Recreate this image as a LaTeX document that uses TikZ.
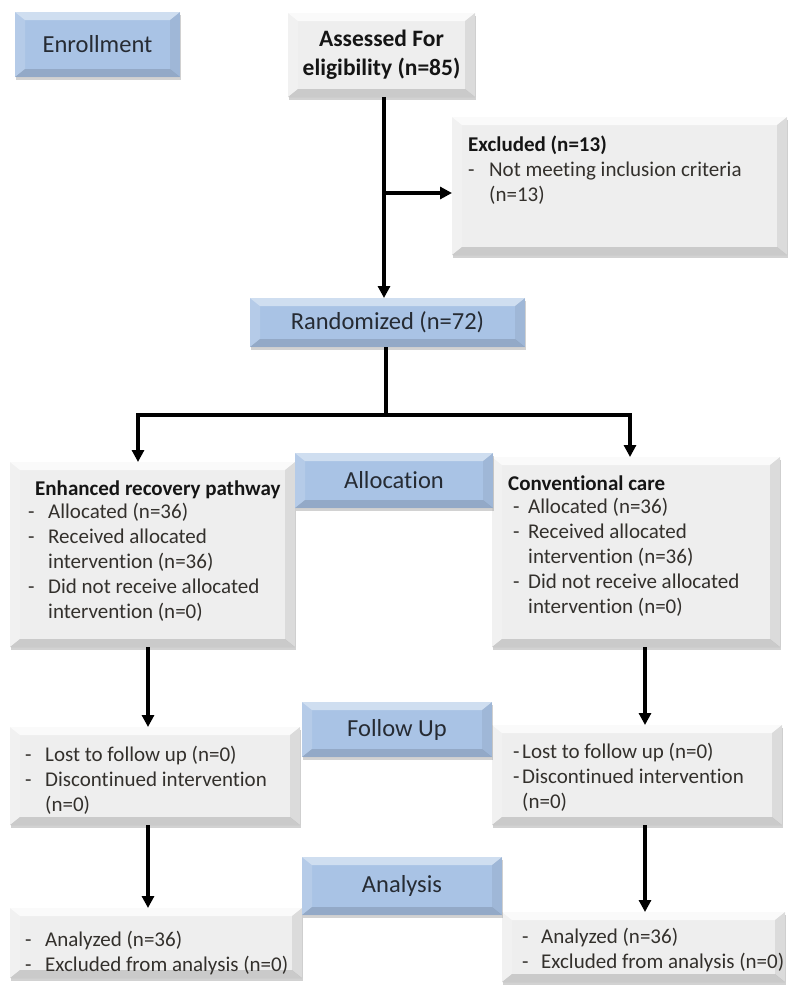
\documentclass[tikz,border=0pt]{standalone}
\usepackage{fontspec}
\setmainfont{Carlito}[Ligatures=NoCommon]
\usetikzlibrary{arrows.meta,shadows}
\definecolor{gface}{HTML}{EEEEEE}
\definecolor{bface}{HTML}{A9C3E5}
\definecolor{btext}{HTML}{262B33}
\definecolor{gtext}{HTML}{33302C}
\definecolor{ttext}{HTML}{151515}
\newcommand\boxtitle[1]{{\bfseries\color{ttext}#1}}
\newcommand\itemd[3]{\hspace*{#1}\makebox[#2][l]{-}#3}
\tikzset{
  bevel/.style n args={4}{path picture={
    \path (path picture bounding box.north west) coordinate (bvnw)
          (path picture bounding box.north east) coordinate (bvne)
          (path picture bounding box.south west) coordinate (bvsw)
          (path picture bounding box.south east) coordinate (bvse);
    \fill[white,opacity=#1] (bvnw) -- (bvne) -- ([shift={(-10pt,-8pt)}]bvne) -- ([shift={(10pt,-8pt)}]bvnw) -- cycle;
    \fill[white,opacity=#2] (bvnw) -- ([shift={(10pt,-8pt)}]bvnw) -- ([shift={(10pt,8pt)}]bvsw) -- (bvsw) -- cycle;
    \fill[black,opacity=#3] (bvne) -- (bvse) -- ([shift={(-10pt,8pt)}]bvse) -- ([shift={(-10pt,-8pt)}]bvne) -- cycle;
    \fill[black,opacity=#4] (bvsw) -- (bvse) -- ([shift={(-10pt,8pt)}]bvse) -- ([shift={(10pt,8pt)}]bvsw) -- cycle;
  }},
  boxbase/.style={inner sep=0pt, outer sep=0pt, drop shadow={shadow xshift=1pt, shadow yshift=-3pt, opacity=.25, fill=black!70}},
  gbox/.style={boxbase, fill=gface, bevel={.75}{.2}{.08}{.15}},
  bbox/.style={boxbase, fill=bface, bevel={.45}{.15}{.06}{.13}, text=btext, font=\fontsize{24.5}{29}\selectfont},
  gt/.style={anchor=north west, inner sep=0pt, align=left, text=gtext, font=\fontsize{21}{25}\selectfont},
  conn/.style={line width=3.2pt, draw=black},
  arr/.style={conn, -{Triangle[length=12pt,width=12pt]}},
}
\begin{document}
\begin{tikzpicture}[x=1pt,y=-1pt]
\useasboundingbox (0,0) rectangle (788,991);
\fill[white] (0,0) rectangle (788,991);
% grey boxes
\node[gbox, minimum width=187pt, minimum height=84pt, align=center, text=ttext, font=\bfseries\fontsize{23.5}{29}\selectfont] (ass) at (381.5,55) {Assessed For\\eligibility (n=85)};
\node[gbox, minimum width=335pt, minimum height=138pt] (exc) at (619.5,186) {};
\node[gbox, minimum width=285pt, minimum height=185pt] (erp) at (152.5,554.5) {};
\node[gbox, minimum width=288pt, minimum height=190pt] (conv) at (636,552) {};
\node[gbox, minimum width=290pt, minimum height=98pt] (ful) at (155,776) {};
\node[gbox, minimum width=290pt, minimum height=100pt] (fur) at (637,775) {};
\node[gbox, minimum width=292pt, minimum height=70pt] (anl) at (156,943) {};
\node[gbox, minimum width=283pt, minimum height=70pt] (anr) at (643.5,947) {};
% blue boxes
\node[bbox, minimum width=165pt, minimum height=65pt] (enr) at (97.5,44.5) {Enrollment};
\node[bbox, minimum width=275pt, minimum height=49pt] (ran) at (387.5,322.5) {Randomized (n=72)};
\node[bbox, minimum width=198pt, minimum height=55pt] (alloc) at (394,480.5) {Allocation};
\node[bbox, minimum width=190pt, minimum height=55pt] (fu) at (397,729.5) {Follow Up};
\node[bbox, minimum width=200pt, minimum height=58pt] (an) at (402,886) {Analysis};
% texts
\node[gt] (exct) at (468,135.5) {\boxtitle{Excluded (n=13)}\\\itemd{0pt}{21pt}{Not meeting inclusion criteria}\\\hspace*{21pt}(n=13)};
\node[gt] (erpt) at (28,480.5) {\hspace*{7pt}\boxtitle{Enhanced recovery pathway}\\[-2pt]\itemd{0pt}{20pt}{Allocated (n=36)}\\\itemd{0pt}{20pt}{Received allocated}\\\hspace*{20pt}intervention (n=36)\\\itemd{0pt}{20pt}{Did not receive allocated}\\\hspace*{20pt}intervention (n=0)};
\node[gt] (convt) at (508,475.5) {\boxtitle{Conventional care}\\[-2pt]\itemd{5pt}{15pt}{Allocated (n=36)}\\\itemd{5pt}{15pt}{Received allocated}\\\hspace*{20pt}intervention (n=36)\\\itemd{5pt}{15pt}{Did not receive allocated}\\\hspace*{20pt}intervention (n=0)};
\node[gt] (fult) at (25,745.5) {\itemd{0pt}{20pt}{Lost to follow up (n=0)}\\\itemd{0pt}{20pt}{Discontinued intervention}\\\hspace*{20pt}(n=0)};
\node[gt] (furt) at (513,742.5) {\itemd{0pt}{9pt}{Lost to follow up (n=0)}\\\itemd{0pt}{9pt}{Discontinued intervention}\\\hspace*{9pt}(n=0)};
\node[gt] (anlt) at (25,930.5) {\itemd{0pt}{20pt}{Analyzed (n=36)}\\\itemd{0pt}{20pt}{Excluded from analysis (n=0)}};
\node[gt] (anrt) at (522,927.5) {\itemd{0pt}{19pt}{Analyzed (n=36)}\\\itemd{0pt}{19pt}{Excluded from analysis (n=0)}};
% connectors
\coordinate (mainx) at (384,0);
\coordinate (colL) at (148,0);
\coordinate (colR) at (645,0);
\coordinate (split) at (386,415);
\coordinate (bl) at (138,415);
\coordinate (br) at (630,415);
\draw[arr] (ass.south -| mainx) -- (ran.north -| mainx);
\draw[arr] ([yshift=-7pt]exc.west -| mainx) -- ([yshift=-7pt]exc.west);
\draw[conn] (ran.south -| split) -- (split);
\draw[arr] (split) -| (bl |- erp.north);
\draw[arr] (split) -| (br |- conv.north);
\draw[arr] (erp.south -| colL) -- (ful.north -| colL);
\draw[arr] (conv.south -| colR) -- (fur.north -| colR);
\draw[arr] (ful.south -| colL) -- (anl.north -| colL);
\draw[arr] (fur.south -| colR) -- (anr.north -| colR);
\end{tikzpicture}
\end{document}
